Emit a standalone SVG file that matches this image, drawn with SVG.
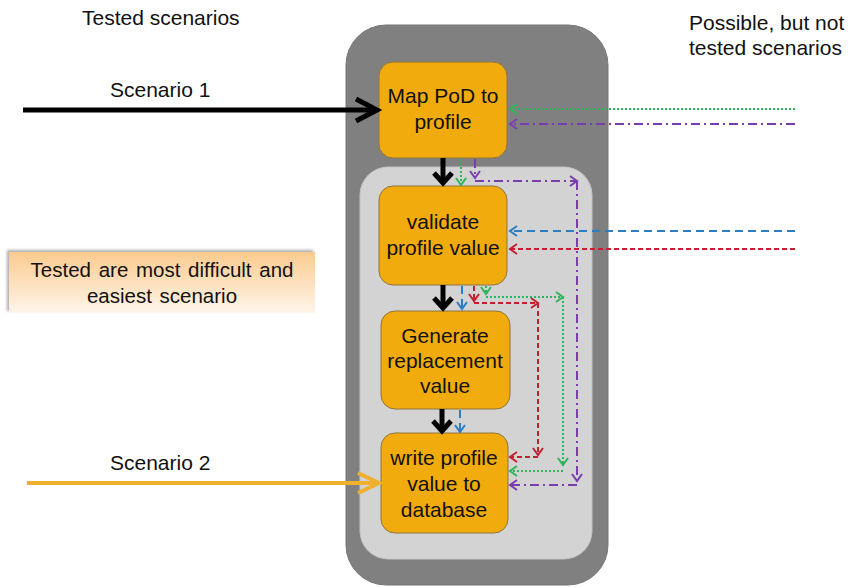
<svg xmlns="http://www.w3.org/2000/svg" width="848" height="587" viewBox="0 0 848 587">
<style>
text{font-family:"Liberation Sans",Arial,sans-serif;fill:#111}
.lbl{font-size:21px}
.bt{font-size:21px;text-anchor:middle}
.box{fill:#F1AB0C;stroke:#8E7440;stroke-width:1}
.blk{stroke:#000;stroke-width:5;fill:none;marker-end:url(#mBlk)}
.g{stroke:#2FB45A;stroke-width:2;stroke-dasharray:2 2;fill:none;marker-end:url(#mG)}
.p{stroke:#7A3DB0;stroke-width:2;stroke-dasharray:9 4 2 4;fill:none;marker-end:url(#mP)}
.b{stroke:#2D7DC3;stroke-width:2;stroke-dasharray:8 5;fill:none;marker-end:url(#mB)}
.r{stroke:#C4202E;stroke-width:2;stroke-dasharray:5 3;fill:none;marker-end:url(#mR)}
</style>
<defs>
<marker id="mBlk" markerUnits="userSpaceOnUse" viewBox="-14 -12 16 24" refX="0" refY="0" markerWidth="16" markerHeight="24" orient="auto" overflow="visible"><path d="M-10,-9 L0,0 L-10,9" fill="none" stroke="#000" stroke-width="5"/></marker>
<marker id="mS1" markerUnits="userSpaceOnUse" viewBox="-25 -14 27 28" refX="0" refY="0" markerWidth="27" markerHeight="28" orient="auto" overflow="visible"><path d="M-21,-11 L0,0 L-21,11" fill="none" stroke="#000" stroke-width="5"/></marker>
<marker id="mS2" markerUnits="userSpaceOnUse" viewBox="-25 -14 27 28" refX="0" refY="0" markerWidth="27" markerHeight="28" orient="auto" overflow="visible"><path d="M-21,-10 L0,0 L-21,10" fill="none" stroke="#EFB02E" stroke-width="4"/></marker>
<marker id="mG" markerUnits="userSpaceOnUse" viewBox="-9 -6 10 12" refX="0" refY="0" markerWidth="10" markerHeight="12" orient="auto" overflow="visible"><path d="M-7,-5 L0,0 L-7,5" fill="none" stroke="#2FB45A" stroke-width="2"/></marker>
<marker id="mP" markerUnits="userSpaceOnUse" viewBox="-9 -6 10 12" refX="0" refY="0" markerWidth="10" markerHeight="12" orient="auto" overflow="visible"><path d="M-7,-5 L0,0 L-7,5" fill="none" stroke="#7A3DB0" stroke-width="2"/></marker>
<marker id="mB" markerUnits="userSpaceOnUse" viewBox="-9 -6 10 12" refX="0" refY="0" markerWidth="10" markerHeight="12" orient="auto" overflow="visible"><path d="M-7,-5 L0,0 L-7,5" fill="none" stroke="#2D7DC3" stroke-width="2"/></marker>
<marker id="mR" markerUnits="userSpaceOnUse" viewBox="-9 -6 10 12" refX="0" refY="0" markerWidth="10" markerHeight="12" orient="auto" overflow="visible"><path d="M-7,-5 L0,0 L-7,5" fill="none" stroke="#C4202E" stroke-width="2"/></marker>
<linearGradient id="hl" x1="0" y1="0" x2="0" y2="1">
<stop offset="0" stop-color="#FBCB8E"/><stop offset="1" stop-color="#FFF5EA"/>
</linearGradient>
<filter id="sh" x="-10%" y="-30%" width="120%" height="160%"><feDropShadow dx="-2" dy="-2" stdDeviation="1.5" flood-color="#888" flood-opacity="0.7"/></filter>
</defs>

<g id="titles">
<text class="lbl" x="82" y="25">Tested scenarios</text>
<text class="lbl" x="689" y="30">Possible, but not</text>
<text class="lbl" x="689" y="55">tested scenarios</text>
<text class="lbl" x="110" y="97">Scenario 1</text>
<text class="lbl" x="110" y="470">Scenario 2</text>
</g>

<g id="note">
<rect x="9" y="252" width="306" height="61" fill="url(#hl)" filter="url(#sh)"/>
<text x="162" y="277" font-size="20.5" text-anchor="middle" word-spacing="2">Tested are most difficult and</text>
<text x="162" y="303" font-size="20.5" text-anchor="middle" word-spacing="2">easiest scenario</text>
</g>

<g id="outer">
<rect x="346" y="25" width="262" height="560" rx="40" fill="#808080" stroke="#777" stroke-width="1"/>
</g>
<g id="inner">
<rect x="360" y="167" width="232" height="392" rx="28" fill="#D3D3D3" stroke="#C4C4C4" stroke-width="1"/>
</g>

<g id="map">
<rect class="box" x="379" y="62" width="128" height="96" rx="14"/>
<text class="bt" x="443" y="103">Map PoD to</text>
<text class="bt" x="443" y="129">profile</text>
</g>
<g id="validate">
<rect class="box" x="379" y="186" width="128" height="99" rx="14"/>
<text class="bt" x="443" y="229">validate</text>
<text class="bt" x="443" y="255">profile value</text>
</g>
<g id="generate">
<rect class="box" x="381" y="311" width="129" height="98" rx="14"/>
<text class="bt" x="445" y="343">Generate</text>
<text class="bt" x="445" y="368">replacement</text>
<text class="bt" x="445" y="393">value</text>
</g>
<g id="write">
<rect class="box" x="381" y="433" width="127" height="100" rx="14"/>
<text class="bt" x="444" y="465">write profile</text>
<text class="bt" x="444" y="491">value to</text>
<text class="bt" x="444" y="517">database</text>
</g>

<g id="connectors">
<line x1="23" y1="110" x2="377" y2="110" stroke="#000" stroke-width="5" marker-end="url(#mS1)"/>
<line x1="27" y1="483" x2="379" y2="483" stroke="#EFB02E" stroke-width="4" marker-end="url(#mS2)"/>

<line class="blk" x1="443" y1="158" x2="443" y2="183"/>
<line class="blk" x1="443" y1="285" x2="443" y2="308"/>
<line class="blk" x1="442" y1="409" x2="442" y2="431"/>

<line class="g" x1="795" y1="109" x2="510" y2="109"/>
<line class="p" x1="795" y1="124" x2="510" y2="124"/>
<line class="b" x1="795" y1="231" x2="510" y2="231"/>
<line class="r" x1="795" y1="249" x2="510" y2="249"/>

<line class="g" x1="461" y1="159" x2="461" y2="185"/>
<line class="p" x1="475" y1="159" x2="475" y2="178"/>
<line class="p" x1="475" y1="181" x2="577" y2="181"/>
<line class="p" x1="577" y1="181" x2="577" y2="481"/>
<line class="p" x1="577" y1="485" x2="510" y2="485"/>

<line class="g" x1="486" y1="286" x2="486" y2="294"/>
<line class="g" x1="486" y1="297" x2="563" y2="297"/>
<line class="g" x1="563" y1="297" x2="563" y2="465"/>
<line class="g" x1="563" y1="471" x2="510" y2="471"/>

<line class="r" x1="474" y1="286" x2="474" y2="301"/>
<line class="r" x1="474" y1="303" x2="538" y2="303"/>
<line class="r" x1="538" y1="303" x2="538" y2="455"/>
<line class="r" x1="538" y1="457" x2="510" y2="457"/>

<line class="b" x1="462" y1="286" x2="462" y2="309"/>
<line class="b" x1="460" y1="410" x2="460" y2="432"/>
</g>
</svg>
